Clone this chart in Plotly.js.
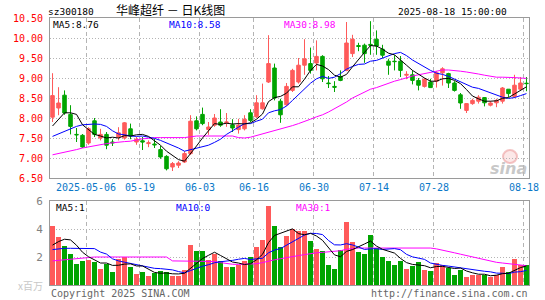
<!DOCTYPE html>
<html>
<head>
<meta charset="utf-8">
<script src="https://cdn.plot.ly/plotly-3.0.1.min.js"></script>
<style>html,body{margin:0;padding:0;background:#fff;}#chart{width:545px;height:300px;}</style>
</head>
<body>
<div id="chart"></div>
<script>
// ---- data ----
const dates = ['2025-04-23','2025-04-24','2025-04-25','2025-04-28','2025-04-29','2025-04-30',
 '2025-05-06','2025-05-07','2025-05-08','2025-05-09','2025-05-12','2025-05-13','2025-05-14','2025-05-15','2025-05-16',
 '2025-05-19','2025-05-20','2025-05-21','2025-05-22','2025-05-23','2025-05-26','2025-05-27','2025-05-28','2025-05-29','2025-05-30',
 '2025-06-03','2025-06-04','2025-06-05','2025-06-06','2025-06-09','2025-06-10','2025-06-11','2025-06-12','2025-06-13',
 '2025-06-16','2025-06-17','2025-06-18','2025-06-19','2025-06-20','2025-06-23','2025-06-24','2025-06-25','2025-06-26','2025-06-27',
 '2025-06-30','2025-07-01','2025-07-02','2025-07-03','2025-07-04','2025-07-07','2025-07-08','2025-07-09','2025-07-10','2025-07-11',
 '2025-07-14','2025-07-15','2025-07-16','2025-07-17','2025-07-18','2025-07-21','2025-07-22','2025-07-23','2025-07-24','2025-07-25',
 '2025-07-28','2025-07-29','2025-07-30','2025-07-31','2025-08-01','2025-08-04','2025-08-05','2025-08-06','2025-08-07','2025-08-08',
 '2025-08-11','2025-08-12','2025-08-13','2025-08-14','2025-08-15','2025-08-18'];

const open  = [8.02,8.25,8.57,8.09,7.59,7.567,7.375,7.93,7.50,7.59,7.40,7.525,7.50,7.73,7.40,7.43,7.36,7.35,7.21,7.04,
 6.775,6.82,6.90,7.11,7.93,8.09,7.71,7.82,7.90,7.88,7.83,7.71,7.73,8.13,8.03,8.23,8.90,9.25,8.42,8.33,
 8.69,8.90,9.32,9.36,9.375,9.54,8.875,8.79,9.04,9.19,9.61,9.81,9.82,9.84,9.97,9.72,9.42,9.42,9.42,9.07,
 9.08,8.94,8.79,8.90,8.92,9.13,9.11,8.875,8.58,8.19,8.36,8.42,8.51,8.32,8.38,8.42,8.72,8.54,8.72,8.87];
const high  = [9.12,8.77,8.69,8.32,7.75,7.60,7.77,8.00,7.73,7.65,7.47,7.77,7.90,7.86,7.525,7.525,7.44,7.48,7.30,7.07,
 6.90,6.92,7.17,8.07,8.04,8.26,7.90,8.10,8.22,8.125,7.97,7.98,8.07,8.22,8.57,8.86,10.07,9.36,8.48,8.875,
 9.23,9.50,9.97,9.76,9.94,9.57,9.05,8.92,9.19,10.40,10.08,9.88,9.86,10.42,10.19,9.83,9.48,9.57,9.55,9.17,
 9.19,9.00,9.00,8.98,9.17,9.27,9.13,8.92,8.625,8.375,8.48,8.57,8.525,8.42,8.48,8.775,8.72,9.08,9.025,9.025];
const low   = [7.90,8.07,8.08,7.59,7.40,7.25,7.33,7.525,7.44,7.22,7.30,7.44,7.46,7.47,7.33,7.20,7.27,7.25,6.98,6.69,
 6.675,6.75,6.875,7.08,7.69,7.82,7.58,7.78,7.78,7.78,7.65,7.61,7.69,7.90,8.00,8.21,8.875,8.44,7.88,8.30,
 8.65,8.86,9.08,9.11,9.19,8.90,8.75,8.65,8.92,9.17,9.525,9.67,9.38,9.58,9.58,9.50,9.08,9.19,9.025,8.97,
 8.84,8.69,8.76,8.75,8.76,8.81,8.75,8.66,8.23,8.125,8.33,8.36,8.29,8.29,8.27,8.36,8.525,8.50,8.69,8.67];
const close = [8.56,8.375,8.125,7.79,7.58,7.275,7.733,7.59,7.59,7.32,7.38,7.63,7.88,7.55,7.47,7.40,7.38,7.33,7.025,6.73,
 6.86,6.875,7.11,7.92,7.73,7.86,7.775,8.00,7.82,7.90,7.75,7.82,7.97,7.94,8.38,8.38,9.36,8.50,8.08,8.79,
 9.19,9.32,9.48,9.19,9.54,8.98,8.86,8.77,8.94,9.875,9.97,9.79,9.61,9.82,9.80,9.57,9.32,9.41,9.19,9.09,
 8.94,8.82,8.97,8.76,9.13,9.23,8.875,8.69,8.375,8.36,8.44,8.52,8.38,8.375,8.44,8.75,8.61,8.82,8.875,8.86];

const ma5  = [7.80,7.97,8.13,8.13,8.09,7.83,7.70,7.59,7.55,7.50,7.52,7.50,7.56,7.55,7.58,7.59,7.54,7.43,7.32,7.17,
 7.07,6.96,6.92,7.10,7.30,7.50,7.68,7.86,7.84,7.87,7.85,7.86,7.85,7.88,7.97,8.10,8.41,8.51,8.54,8.62,
 8.78,8.78,8.97,9.19,9.34,9.30,9.21,9.07,9.02,9.09,9.28,9.47,9.64,9.81,9.80,9.72,9.62,9.58,9.46,9.32,
 9.19,9.09,9.00,8.92,8.92,8.98,8.99,8.94,8.86,8.71,8.55,8.48,8.42,8.42,8.43,8.49,8.51,8.60,8.70,8.78];
const ma10 = [7.54,7.60,7.67,7.74,7.79,7.83,7.84,7.85,7.84,7.79,7.68,7.60,7.58,7.55,7.54,7.55,7.52,7.49,7.44,7.38,
 7.33,7.25,7.17,7.21,7.24,7.28,7.32,7.39,7.47,7.59,7.67,7.77,7.86,7.86,7.92,7.97,8.13,8.18,8.21,8.30,
 8.44,8.59,8.74,8.87,8.98,9.04,8.99,9.02,9.11,9.22,9.29,9.34,9.35,9.42,9.44,9.50,9.55,9.61,9.64,9.56,
 9.45,9.36,9.29,9.19,9.12,9.09,9.04,8.97,8.89,8.82,8.77,8.74,8.68,8.64,8.57,8.52,8.49,8.51,8.56,8.61];
const ma30 = [7.08,7.11,7.14,7.17,7.21,7.25,7.28,7.31,7.34,7.36,7.38,7.40,7.41,7.42,7.45,7.48,7.49,7.51,7.51,7.51,
 7.51,7.51,7.51,7.53,7.55,7.55,7.55,7.55,7.55,7.55,7.55,7.51,7.50,7.52,7.56,7.60,7.65,7.68,7.72,7.77,
 7.81,7.86,7.91,7.97,8.03,8.08,8.15,8.23,8.31,8.40,8.50,8.57,8.65,8.72,8.76,8.82,8.87,8.92,8.96,9.01,
 9.05,9.08,9.11,9.13,9.16,9.20,9.20,9.19,9.17,9.15,9.13,9.10,9.07,9.04,9.02,9.02,9.02,9.01,9.00,8.99];

// volume, millions of shares
const volume = [4.24,3.43,2.81,2.24,1.50,1.74,1.81,1.62,1.16,1.52,0.90,1.85,2.00,1.26,0.81,0.90,0.66,0.85,0.97,0.90,
 0.62,0.62,1.09,2.83,2.45,2.45,1.76,2.21,1.69,1.28,1.26,1.40,1.69,1.97,2.69,3.19,5.62,4.24,2.69,3.52,
 4.00,3.88,3.88,3.16,2.59,2.45,1.40,1.16,2.52,4.47,3.09,2.33,2.24,3.59,2.64,1.97,1.74,1.45,1.69,1.16,
 1.33,1.62,1.09,0.97,1.59,1.40,1.21,0.74,1.09,0.55,0.74,0.74,0.74,0.55,0.74,1.26,0.93,1.88,1.40,1.40];
const vma5  = [2.85,3.10,3.27,3.22,2.84,2.34,2.02,1.78,1.57,1.57,1.40,1.41,1.49,1.51,1.36,1.36,1.13,0.90,0.84,0.86,
 0.80,0.79,0.84,1.21,1.52,1.89,2.12,2.34,2.11,1.88,1.64,1.57,1.46,1.52,1.80,2.19,3.03,3.54,3.69,3.85,
 4.01,3.67,3.59,3.69,3.50,3.19,2.70,2.15,2.02,2.40,2.53,2.71,2.93,3.14,2.78,2.55,2.44,2.28,1.90,1.60,
 1.47,1.45,1.38,1.23,1.32,1.33,1.25,1.18,1.21,1.00,0.87,0.77,0.77,0.66,0.70,0.81,0.84,1.07,1.24,1.37];
const vma10 = [2.53,2.60,2.62,2.62,2.62,2.62,2.62,2.60,2.35,2.21,1.87,1.72,1.63,1.54,1.47,1.38,1.27,1.19,1.17,1.11,
 1.08,0.96,0.87,1.03,1.19,1.34,1.45,1.59,1.66,1.70,1.76,1.84,1.90,1.82,1.84,1.91,2.30,2.50,2.60,2.83,
 3.10,3.35,3.57,3.69,3.68,3.60,3.18,2.87,2.86,2.95,2.86,2.71,2.54,2.58,2.59,2.54,2.58,2.60,2.52,2.19,
 2.01,1.94,1.83,1.57,1.46,1.40,1.35,1.28,1.22,1.16,1.10,1.01,0.98,0.94,0.85,0.84,0.81,0.92,0.95,1.04];
const vma30 = [1.72,1.76,1.80,1.85,1.90,1.95,1.98,2.00,2.00,2.00,2.00,2.00,2.00,2.00,2.00,2.00,2.00,2.00,2.00,2.00,
 1.72,1.72,1.72,1.72,1.72,1.72,1.72,1.68,1.60,1.52,1.48,1.47,1.48,1.50,1.52,1.60,1.72,1.80,1.88,1.97,
 2.04,2.10,2.17,2.25,2.30,2.33,2.36,2.40,2.45,2.55,2.62,2.64,2.64,2.64,2.64,2.64,2.64,2.64,2.64,2.64,
 2.64,2.64,2.64,2.64,2.58,2.50,2.40,2.30,2.20,2.10,2.00,1.90,1.80,1.70,1.62,1.57,1.52,1.47,1.42,1.38];

const tickDates  = ['2025-05-06','2025-05-19','2025-06-03','2025-06-16','2025-06-30','2025-07-14','2025-07-28','2025-08-18'];
const tickLabels = ['2025-05-06','05-19','06-03','06-16','06-30','07-14','07-28','08-18'];
const priceTicks = ['6.50','7.00','7.50','8.00','8.50','9.00','9.50','10.00','10.50'];

// ---- drawing ----
const RED = '#ff5a5a', GREEN = '#00a400';
const MONO = '"DejaVu Sans Mono", "Liberation Mono", monospace';
const CJK = '"Noto Sans CJK SC", sans-serif';
const idx = dates.map((d, i) => i);
const tickIdx = tickDates.map(d => dates.indexOf(d) - 0.42);
const volColors = close.map((c, i) => c >= open[i] ? RED : GREEN);

// pixel -> paper helpers (plot area: x 50..529, y 18..285)
const L = 50, R = 16, T = 18, B = 15, W = 545, H = 300;
const pw = W - L - R, ph = H - T - B;
const px = x => (x - L) / pw;
const py = y => (H - B - y) / ph;

const traces = [
  {type: 'candlestick', x: idx, open: open, high: high, low: low, close: close,
   xaxis: 'x', yaxis: 'y', whiskerwidth: 0,
   increasing: {line: {color: RED, width: 1}, fillcolor: RED},
   decreasing: {line: {color: GREEN, width: 1}, fillcolor: GREEN}},
  {type: 'scatter', mode: 'lines', x: idx, y: ma30, xaxis: 'x', yaxis: 'y', line: {color: '#ff00ff', width: 1}},
  {type: 'scatter', mode: 'lines', x: idx, y: ma10, xaxis: 'x', yaxis: 'y', line: {color: '#0000ff', width: 1}},
  {type: 'scatter', mode: 'lines', x: idx, y: ma5,  xaxis: 'x', yaxis: 'y', line: {color: '#000000', width: 1}},
  {type: 'bar', x: idx, y: volume, xaxis: 'x2', yaxis: 'y2', width: 0.84,
   marker: {color: volColors, line: {width: 0}}},
  {type: 'scatter', mode: 'lines', x: idx, y: vma30, xaxis: 'x2', yaxis: 'y2', line: {color: '#ff00ff', width: 1}},
  {type: 'scatter', mode: 'lines', x: idx, y: vma10, xaxis: 'x2', yaxis: 'y2', line: {color: '#0000ff', width: 1}},
  {type: 'scatter', mode: 'lines', x: idx, y: vma5,  xaxis: 'x2', yaxis: 'y2', line: {color: '#000000', width: 1}}
];

const gridCol = '#b4b4b4', frameCol = '#9a9a9a';
const xBase = {
  range: [-0.42, 79.42], tickmode: 'array', tickvals: tickIdx, ticktext: tickLabels,
  showgrid: true, gridcolor: gridCol, griddash: '4px,3px', gridwidth: 1,
  showline: true, mirror: true, linecolor: frameCol, linewidth: 1,
  zeroline: false, ticks: '', fixedrange: true, rangeslider: {visible: false}
};

function ann(text, x, y, color, size, xanchor, family) {
  return {text: text, x: px(x), y: py(y), xref: 'paper', yref: 'paper', showarrow: false,
    xanchor: xanchor || 'left', yanchor: 'middle', borderpad: 0,
    font: {family: family || MONO, size: size || 9.5, color: color || '#000'}};
}

const layout = {
  width: W, height: H, margin: {l: L, r: R, t: T, b: B, pad: 0},
  paper_bgcolor: '#fff', plot_bgcolor: '#fff', showlegend: false, hovermode: false,
  boxgap: 0.16, bargap: 0,
  title: {text: 'sz300180', xref: 'container', yref: 'container', x: 48 / W, y: 1 - 11.5 / H,
    xanchor: 'left', yanchor: 'middle', pad: {t: 0, b: 0, l: 0, r: 0},
    font: {family: MONO, size: 9.5, color: '#000'}},
  xaxis: Object.assign({}, xBase, {anchor: 'y', domain: [0, 1],
    showticklabels: true, tickfont: {family: MONO, size: 10, color: '#0a78c8'}}),
  xaxis2: Object.assign({}, xBase, {anchor: 'y2', domain: [0, 1], showticklabels: false}),
  yaxis: {domain: [py(178), 1], range: [6.5, 10.5], tickmode: 'array',
    tickvals: priceTicks.map(Number), ticktext: priceTicks,
    tickfont: {family: MONO, size: 10, color: '#ff0000'},
    showgrid: true, gridcolor: gridCol, griddash: '1px,2px', gridwidth: 1,
    showline: true, mirror: true, linecolor: frameCol, zeroline: false,
    ticks: 'outside', ticklen: 4, tickcolor: 'rgba(0,0,0,0)', fixedrange: true},
  yaxis2: {domain: [0, py(201)], range: [0, 6], tickmode: 'array', tickvals: [2, 4, 6], ticktext: ['2', '4', '6'],
    tickfont: {family: MONO, size: 11, color: '#808080'},
    showgrid: true, gridcolor: gridCol, griddash: '1px,2px', gridwidth: 1,
    showline: true, mirror: true, linecolor: frameCol, zeroline: false,
    ticks: 'outside', ticklen: 4, tickcolor: 'rgba(0,0,0,0)', fixedrange: true},
  shapes: [
    {type: 'circle', xref: 'paper', yref: 'paper', x0: px(503), x1: px(517), y0: py(150), y1: py(163),
     line: {color: 'rgba(235,150,150,0.55)', width: 2}, fillcolor: 'rgba(245,190,190,0.35)', layer: 'below'}
  ],
  annotations: [
    ann('华峰超纤 － 日K线图', 115, 10, '#000', 12, 'left', CJK),
    ann('2025-08-18 15:00:00', 508, 12, '#000', 9.5, 'right'),
    ann('MA5:8.76', 52, 24, '#000'),
    ann('MA10:8.58', 167.5, 24, '#0000ff'),
    ann('MA30:8.98', 282.5, 24, '#ff00ff'),
    ann('MA5:1', 54.5, 207.5, '#000'),
    ann('MA10:0', 174.5, 207.5, '#0000ff'),
    ann('MA30:1', 294.5, 207.5, '#ff00ff'),
    ann('x百万', 44, 285, '#c8c8c8', 10, 'right', CJK),
    ann('Copyright 2025 SINA.COM', 50, 293, '#666666', 10),
    ann('http://finance.sina.com.cn', 529, 293, '#666666', 10, 'right'),
    {text: '<b><i>sina</i></b>', x: px(529), y: py(168), xref: 'paper', yref: 'paper', showarrow: false,
     xanchor: 'right', yanchor: 'middle', font: {family: '"DejaVu Sans", sans-serif', size: 16, color: 'rgba(185,185,185,0.8)'}}
  ]
};

Plotly.newPlot('chart', traces, layout, {staticPlot: true, displayModeBar: false});
</script>
</body>
</html>
